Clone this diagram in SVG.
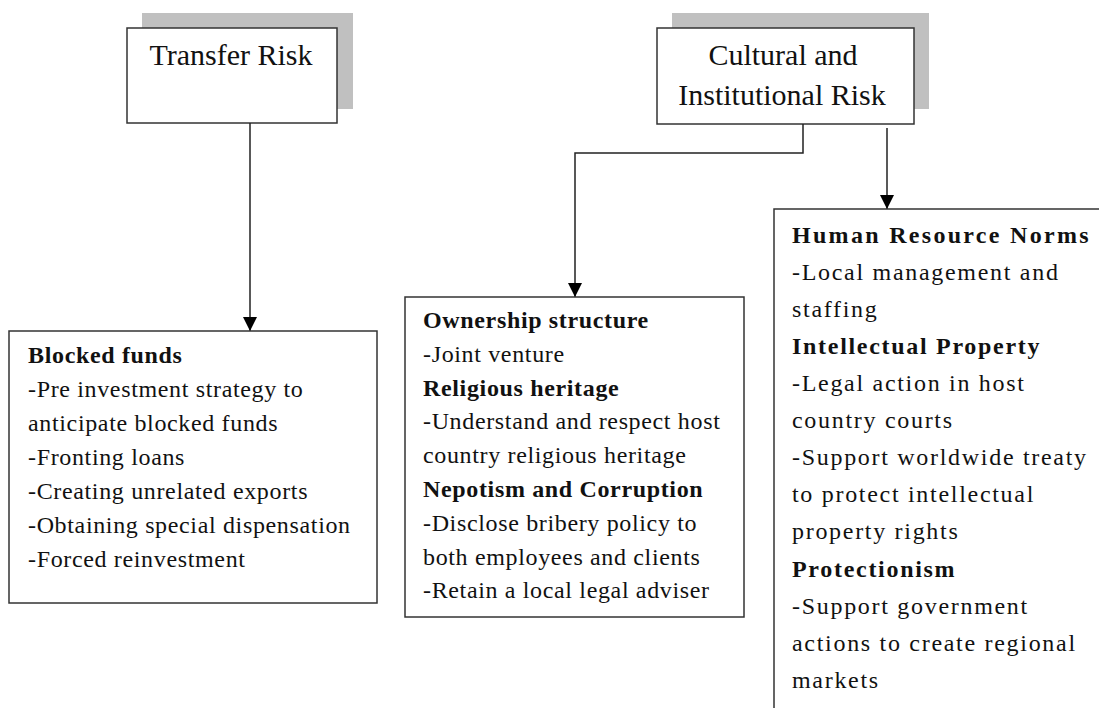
<svg xmlns="http://www.w3.org/2000/svg" width="1099" height="708" viewBox="0 0 1099 708">
<style>
.bg{fill:#ffffff}
.shadow{fill:#c0c0c0;stroke:none}
.box{fill:#ffffff;stroke:#333333;stroke-width:1.5}
.conn{fill:none;stroke:#222222;stroke-width:1.5}
.title{font-family:"Liberation Serif","Times New Roman",serif;font-size:30px;fill:#111111;text-anchor:middle}
.t{font-family:"Liberation Serif","Times New Roman",serif;font-size:24px;fill:#111111;letter-spacing:0.65px}
.r{font-family:"Liberation Serif","Times New Roman",serif;font-size:24px;fill:#111111;letter-spacing:1.7px}
.b{font-weight:bold}
</style>
<defs>
<marker id="arrow" markerUnits="userSpaceOnUse" markerWidth="15" markerHeight="15" refX="14" refY="7" orient="auto">
<path d="M0,0 L14,7 L0,14 z" fill="#000000"/>
</marker>
</defs>
<rect class="bg" x="0" y="0" width="1099" height="708"/>

<g id="node-transfer-risk">
<rect class="shadow" x="142" y="13" width="211" height="96"/>
<rect class="box" x="127" y="28" width="210" height="95"/>
<text class="title" x="231" y="65">Transfer Risk</text>
</g>

<g id="node-cultural-risk">
<rect class="shadow" x="672" y="13" width="257" height="96"/>
<rect class="box" x="657" y="28" width="257" height="96"/>
<text class="title" x="783" y="65">Cultural and</text>
<text class="title" x="782" y="105">Institutional Risk</text>
</g>

<g id="connectors">
<path class="conn" d="M250,123 L250,331" marker-end="url(#arrow)"/>
<path class="conn" d="M803,124 L803,153 L575,153 L575,297" marker-end="url(#arrow)"/>
<path class="conn" d="M887,128 L887,209" marker-end="url(#arrow)"/>
</g>

<g id="node-blocked-funds">
<rect class="box" x="9" y="331" width="368" height="272"/>
<text class="t b" x="28" y="363">Blocked funds</text>
<text class="t" x="28" y="397">-Pre investment strategy to</text>
<text class="t" x="28" y="431">anticipate blocked funds</text>
<text class="t" x="28" y="465">-Fronting loans</text>
<text class="t" x="28" y="499">-Creating unrelated exports</text>
<text class="t" x="28" y="533">-Obtaining special dispensation</text>
<text class="t" x="28" y="567">-Forced reinvestment</text>
</g>

<g id="node-ownership">
<rect class="box" x="405" y="297" width="339" height="320"/>
<text class="t b" x="423" y="328">Ownership structure</text>
<text class="t" x="423" y="362">-Joint venture</text>
<text class="t b" x="423" y="396">Religious heritage</text>
<text class="t" x="423" y="429">-Understand and respect host</text>
<text class="t" x="423" y="463">country religious heritage</text>
<text class="t b" x="423" y="497">Nepotism and Corruption</text>
<text class="t" x="423" y="531">-Disclose bribery policy to</text>
<text class="t" x="423" y="565">both employees and clients</text>
<text class="t" x="423" y="598">-Retain a local legal adviser</text>
</g>

<g id="node-hr-norms">
<rect class="box" x="774" y="209" width="340" height="520"/>
<text class="r b" x="792" y="243" style="letter-spacing:2.3px">Human Resource Norms</text>
<text class="r" x="792" y="280">-Local management and</text>
<text class="r" x="792" y="317">staffing</text>
<text class="r b" x="792" y="354">Intellectual Property</text>
<text class="r" x="792" y="391">-Legal action in host</text>
<text class="r" x="792" y="428">country courts</text>
<text class="r" x="792" y="465">-Support worldwide treaty</text>
<text class="r" x="792" y="502">to protect intellectual</text>
<text class="r" x="792" y="539">property rights</text>
<text class="r b" x="792" y="577">Protectionism</text>
<text class="r" x="792" y="614">-Support government</text>
<text class="r" x="792" y="651">actions to create regional</text>
<text class="r" x="792" y="688">markets</text>
</g>
</svg>
